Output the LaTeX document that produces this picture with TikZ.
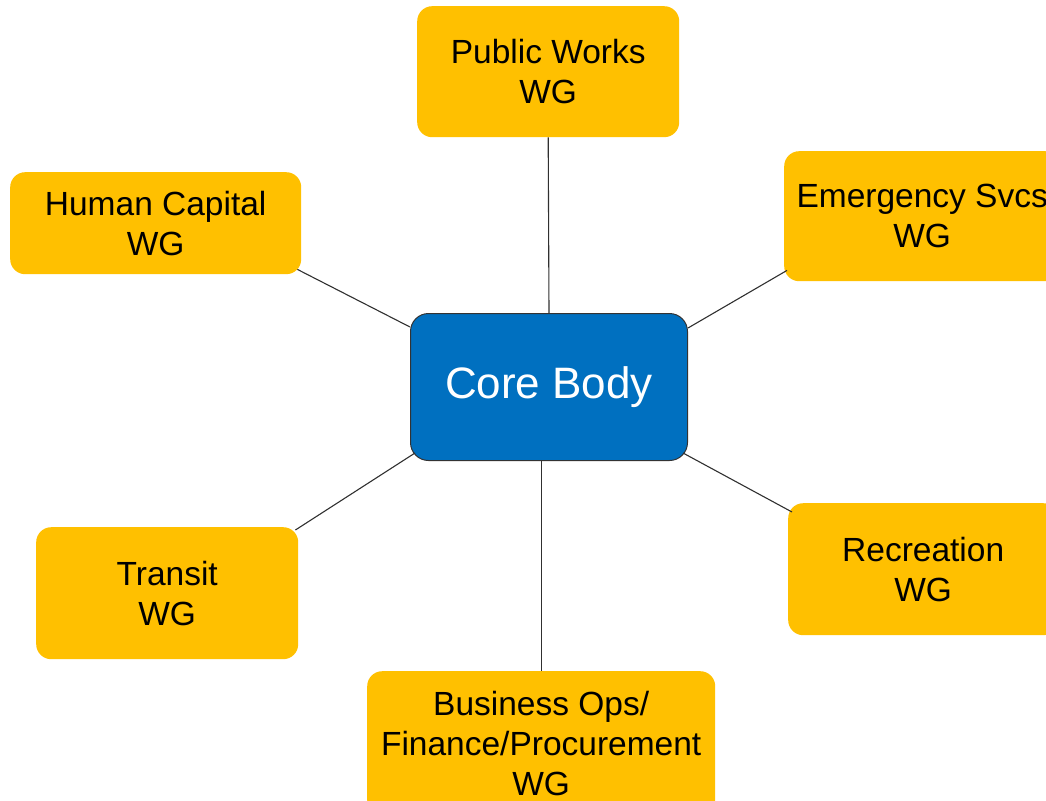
\documentclass[tikz,border=0pt]{standalone}
\usepackage{fontspec}
\setmainfont{Liberation Sans}
\usetikzlibrary{calc}
\definecolor{wgyellow}{HTML}{FFC000}
\definecolor{coreblue}{HTML}{0070C0}
\definecolor{linegray}{HTML}{303030}
\begin{document}
\begin{tikzpicture}[x=1pt,y=-1pt,
  wgbox/.style={fill=wgyellow, draw=none, rounded corners=15pt, anchor=north west,
    inner sep=0pt, align=center, font=\fontsize{33.5}{40}\selectfont},
  corebox/.style={fill=coreblue, draw=black!80, line width=1pt, rounded corners=18pt,
    anchor=north west, inner sep=0pt, align=center, text=white,
    font=\fontsize{44}{50}\selectfont},
  link/.style={draw=linegray, line width=1.1pt}]
\path[use as bounding box] (0,0) rectangle (1046,800);
\clip (0,0) rectangle (1046,800);
\node[wgbox, minimum width=262pt, minimum height=131pt] (pw) at (417,6) {Public Works\\WG};
\node[wgbox, minimum width=291pt, minimum height=102pt] (hc) at (10,172) {Human Capital\\WG};
\node[wgbox, minimum width=276pt, minimum height=130pt] (es) at (784,151) {Emergency Svcs\\WG};
\node[corebox, minimum width=277pt, minimum height=147pt] (core) at (410,313) {Core Body};
\node[wgbox, minimum width=262pt, minimum height=132pt] (tr) at (36,527) {Transit\\WG};
\node[wgbox, minimum width=270pt, minimum height=132pt] (rc) at (788,503) {Recreation\\WG};
\node[wgbox, minimum width=348pt, minimum height=144pt] (bo) at (367,671) {Business Ops/\\Finance/Procurement\\WG};
\draw[link] (pw.south) -- (core.north);
\draw[link] ($(hc.south east)+(-4,-5)$) -- ($(core.north west)+(0,14)$);
\draw[link] ($(es.south west)+(3,-11)$) -- ($(core.north east)+(0,15)$);
\draw[link] ($(tr.north east)+(-3,3)$) -- ($(core.south west)+(5,-8)$);
\draw[link] ($(rc.north west)+(4,9)$) -- ($(core.south east)+(-5,-8)$);
\draw[link] (core.south -| bo.north) -- (bo.north);
\end{tikzpicture}
\end{document}
